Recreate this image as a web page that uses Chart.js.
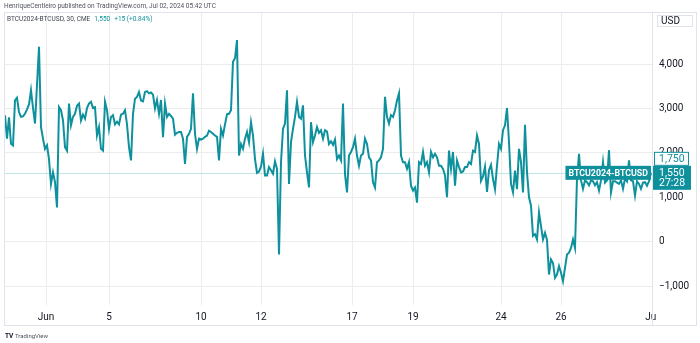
<!DOCTYPE html>
<html>
<head>
<meta charset="utf-8">
<script src="https://cdn.jsdelivr.net/npm/chart.js@4.4.1/dist/chart.umd.min.js"></script>
<style>
  html, body { margin: 0; padding: 0; background: #fff; }
  canvas { display: block; }
</style>
</head>
<body>
<canvas id="myChart" width="700" height="343"></canvas>
<script>
// BTCU2024-BTCUSD spread, 30 minute bars (every other bar kept)
var prices = [
  2845, 2320, 2800, 2204, 2166, 3180, 3240, 2920, 2810, 2820, 2880, 2980, 3090, 3410, 3010, 2660,
  3530, 4390, 2580, 2320, 2090, 2170, 1860, 1300, 1560, 1340, 770, 3030, 2960, 2730, 2130, 2050,
  3110, 2620, 2810, 2880, 3060, 3110, 2730, 2860, 2770, 3010, 3110, 3150, 3010, 3030, 2390, 2580,
  2090, 2050, 3150, 2960, 2540, 2810, 2850, 2640, 2700, 2640, 2860, 2880, 2960, 2640, 2130, 1830,
  2880, 3220, 3260, 3370, 3180, 3160, 3370, 3390, 3340, 3360, 3310, 3000, 3190, 2880, 3190, 2350,
  3110, 2810, 2880, 2830, 2770, 2410, 2450, 2470, 2470, 2320, 1750, 2360, 2430, 2540, 3340, 2430,
  2090, 2320, 2300, 2320, 2360, 2390, 2500, 2470, 2430, 2390, 2360, 1830, 2540, 2390, 2640, 2870,
  2880, 2960, 4050, 4130, 4540, 1940, 2200, 2090, 2320, 2470, 2240, 2690, 2390, 1860, 1550, 1580,
  1690, 1980, 1490, 1490, 1680, 1610, 1530, 1810, 1640, -290, 1790, 2540, 2660, 3410, 1300, 2240,
  2540, 2810, 3150, 2810, 2770, 3070, 1940, 1560, 1220, 2690, 2240, 2390, 2580, 2450, 2510, 2320,
  2510, 2480, 2200, 2260, 2180, 2300, 1860, 1940, 1830, 3110, 1520, 1110, 1940, 2020, 2130, 2320,
  1940, 1710, 1940, 1980, 2320, 2200, 1900, 1830, 1340, 1220, 1790, 1830, 1900, 2090, 3260, 2810,
  2660, 2850, 2810, 2960, 3180, 3340, 1940, 1790, 1790, 1640, 1790, 1260, 1150, 1220, 880, 1790,
  1750, 2020, 1710, 1790, 1560, 2020, 1900, 1980, 1900, 1710, 1710, 1640, 1490, 1000, 2050, 1640,
  2020, 1260, 1830, 1680, 1560, 1580, 1680, 1680, 1790, 1750, 2050, 2020, 2390, 2200, 1370, 1470,
  1690, 1120, 1610, 1730, 1410, 1180, 1710, 2200, 2090, 2510, 2620, 3010, 2240, 1300, 1110, 1600,
  1180, 2090, 1790, 1110, 2630, 1560, 1000, 810, 130, 170, 50, 660, 350, 50, 200, 40,
  -740, -400, -480, -815, -740, -550, -700, -890, -590, -290, -250, -140, 50, -140, 1410, 1980,
  1380, 1190, 1380, 1340, 1270, 1380, 1360, 1270, 1340, 1150, 1380, 1790, 1330, 1380, 2060, 1110,
  1360, 1360, 1330, 1300, 1380, 1190, 1420, 1360, 1830, 1380, 1360, 1040, 1360, 1300, 1190, 1330,
  1340, 1260, 1360, 1550
];

// first bar of each labelled session
var dateLabels = ['Jun', '5', '10', '12', '17', '19', '24', '26', 'Jul'];
var dateBars = [20.5, 52, 98, 128, 173.5, 204, 248, 278, 323.5];

var priceTicks = [-1000, 0, 1000, 2000, 3000, 4000];

var lastPrice = 1550;
var priceChange = 15;
var changePct = 0.84;
var markPrice = 1750;
var countdown = '27:28';

var teal = '#0f919d';
var gridColor = '#ececec';
var frameColor = '#e0e3eb';
var textColor = '#131722';

function fmt(v) {
  var s = Math.abs(v).toLocaleString('en-US');
  return v < 0 ? '\u2212' + s : s;
}

var overlay = {
  id: 'overlay',
  beforeDatasetsDraw: function (chart) {
    var ctx = chart.ctx;
    var area = chart.chartArea;
    var y = Math.round(chart.scales.y.getPixelForValue(lastPrice)) + 0.5;
    ctx.save();
    ctx.strokeStyle = '#c2e5e8';
    ctx.lineWidth = 1;
    ctx.beginPath();
    ctx.moveTo(area.left, y);
    ctx.lineTo(area.right, y);
    ctx.stroke();
    ctx.restore();
  },
  afterDraw: function (chart) {
    var ctx = chart.ctx;
    var area = chart.chartArea;
    var yScale = chart.scales.y;
    ctx.save();

    // cut the last date label at the price scale
    ctx.fillStyle = '#fff';
    ctx.fillRect(area.right + 4, area.bottom + 2, 20, 18);

    // outer frame and price scale divider
    ctx.strokeStyle = frameColor;
    ctx.lineWidth = 1;
    ctx.strokeRect(4.5, 12.5, 692, 313);
    ctx.beginPath();
    ctx.moveTo(area.right + 0.5, 12.5);
    ctx.lineTo(area.right + 0.5, 325.5);
    ctx.stroke();

    // header
    ctx.textBaseline = 'middle';
    ctx.textAlign = 'left';
    ctx.font = '6.5px Roboto';
    ctx.fillStyle = '#50535e';
    ctx.fillText('HenriqueCentleiro published on TradingView.com, Jul 02, 2024 05:42 UTC', 4, 6);

    // legend
    ctx.fillStyle = '#434651';
    ctx.fillText('BTCU2024-BTCUSD, 30, CME', 7, 19.5);
    var x = 7 + ctx.measureText('BTCU2024-BTCUSD, 30, CME').width + 4;
    ctx.fillStyle = teal;
    ctx.fillText(fmt(lastPrice), x, 19.5);
    x += ctx.measureText(fmt(lastPrice)).width + 4;
    ctx.fillText('+' + priceChange + ' (+' + changePct.toFixed(2) + '%)', x, 19.5);

    // currency box
    ctx.fillStyle = '#fff';
    ctx.fillRect(657.5, 15.5, 35, 11);
    ctx.strokeRect(657.5, 15.5, 35, 11);
    ctx.fillStyle = textColor;
    ctx.font = '10px Roboto';
    ctx.fillText('USD', 661, 21.5);

    // last price tags
    var py = yScale.getPixelForValue(lastPrice);
    ctx.font = 'bold 8.8px Roboto';
    var name = 'BTCU2024-BTCUSD';
    var w = ctx.measureText(name).width + 6;
    ctx.fillStyle = teal;
    ctx.fillRect(area.right - 1 - w, py - 7, w, 14);
    ctx.fillStyle = '#fff';
    ctx.fillText(name, area.right - 1 - w + 3, py + 0.5);

    ctx.fillStyle = teal;
    ctx.fillRect(area.right + 1, py - 7, 38, 24);
    ctx.fillStyle = '#fff';
    ctx.font = '10.5px Roboto';
    ctx.fillText(fmt(lastPrice), area.right + 7, py + 0.5);
    ctx.fillText(countdown, area.right + 7, py + 10.5);

    var my = Math.min(yScale.getPixelForValue(markPrice), py - 14);
    ctx.fillStyle = '#fff';
    ctx.fillRect(area.right + 2.5, my - 6.5, 34, 13);
    ctx.strokeStyle = teal;
    ctx.strokeRect(area.right + 2.5, my - 6.5, 34, 13);
    ctx.fillStyle = teal;
    ctx.fillText(fmt(markPrice), area.right + 7, my + 0.5);

    // footer logo
    ctx.fillStyle = '#131722';
    ctx.font = 'bold 6.5px Roboto';
    ctx.fillText('TV', 5, 336);
    ctx.font = '6px Roboto';
    ctx.fillStyle = '#50535e';
    ctx.fillText('TradingView', 15, 336);

    ctx.restore();
  }
};

var ctx = document.getElementById('myChart').getContext('2d');
var myChart = new Chart(ctx, {
  type: 'line',
  data: {
    datasets: [{
      label: 'BTCU2024-BTCUSD',
      data: prices.map(function (p, i) { return { x: i, y: p }; }),
      borderColor: teal,
      borderWidth: 2,
      pointRadius: 0,
      tension: 0,
      fill: false
    }]
  },
  options: {
    responsive: false,
    animation: false,
    events: [],
    layout: { padding: { left: 4, top: 13, right: 0, bottom: 0 } },
    plugins: {
      legend: { display: false },
      tooltip: { enabled: false }
    },
    scales: {
      x: {
        type: 'linear',
        min: -0.5,
        max: prices.length - 0.5,
        afterBuildTicks: function (scale) {
          scale.ticks = dateBars.map(function (b) { return { value: b }; });
        },
        afterFit: function (scale) { scale.height = 38; },
        ticks: {
          autoSkip: false,
          maxRotation: 0,
          padding: 6,
          color: textColor,
          font: { family: 'Roboto', size: 10 },
          callback: function (value, index) { return dateLabels[index]; }
        },
        grid: { color: gridColor, drawTicks: false },
        border: { display: false }
      },
      y: {
        position: 'right',
        min: -1427,
        max: 5150,
        afterBuildTicks: function (scale) {
          scale.ticks = priceTicks.map(function (v) { return { value: v }; });
        },
        afterFit: function (scale) { scale.width = 48; },
        ticks: {
          padding: 7,
          color: textColor,
          font: { family: 'Roboto', size: 10 },
          callback: function (value) { return fmt(value); }
        },
        grid: { color: gridColor, drawTicks: false },
        border: { display: false }
      }
    }
  },
  plugins: [overlay]
});
</script>
</body>
</html>
